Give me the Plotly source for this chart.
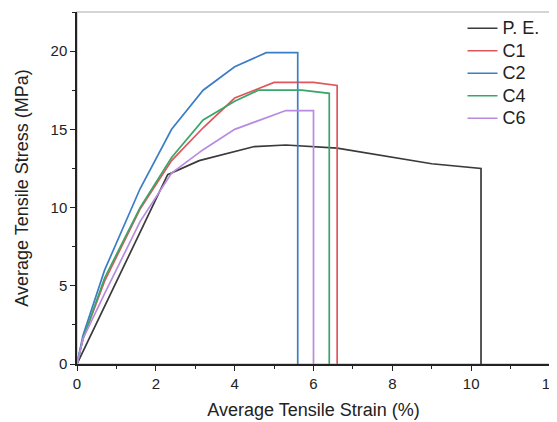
import plotly.graph_objects as go

# Data
pe_strain = [0, 0.8, 1.6, 2.3, 3.1, 4.5, 5.3, 6.6, 9.0, 10.25, 10.25]
pe_stress = [0, 4.2, 8.4, 12.1, 13.0, 13.9, 14.0, 13.8, 12.8, 12.5, 0]

c1_strain = [0, 0.15, 0.7, 1.6, 2.4, 3.2, 4.0, 5.0, 6.0, 6.6, 6.6]
c1_stress = [0, 1.6, 5.3, 9.9, 13.0, 15.1, 17.0, 18.0, 18.0, 17.8, 0]

c2_strain = [0, 0.15, 0.7, 1.6, 2.4, 3.2, 4.0, 4.8, 5.6, 5.6]
c2_stress = [0, 1.8, 6.0, 11.2, 15.0, 17.5, 19.0, 19.9, 19.9, 0]

c4_strain = [0, 0.15, 0.7, 1.6, 2.4, 3.2, 4.0, 4.6, 5.7, 6.4, 6.4]
c4_stress = [0, 1.6, 5.5, 10.0, 13.2, 15.6, 16.8, 17.5, 17.5, 17.3, 0]

c6_strain = [0, 0.15, 0.7, 1.6, 2.4, 3.2, 4.0, 5.3, 6.0, 6.0]
c6_stress = [0, 1.6, 4.5, 9.1, 12.2, 13.7, 15.0, 16.2, 16.2, 0]

series_names = ["P. E.", "C1", "C2", "C4", "C6"]

series = [
    (series_names[0], pe_strain, pe_stress, "#3a3a3a"),
    (series_names[1], c1_strain, c1_stress, "#e0565b"),
    (series_names[2], c2_strain, c2_stress, "#3b7dc6"),
    (series_names[3], c4_strain, c4_stress, "#3aa56a"),
    (series_names[4], c6_strain, c6_stress, "#b88be0"),
]

x_ticks = [0, 2, 4, 6, 8, 10, 12]
y_ticks = [0, 5, 10, 15, 20]

fig = go.Figure()
for name, xs, ys, col in series:
    fig.add_trace(go.Scatter(x=xs, y=ys, mode="lines",
                             name='<span style="font-size:18px">' + name + '</span>',
                             line=dict(color=col, width=1.7)))

font_family = "Liberation Sans, Arial, sans-serif"

# light gray frame (top/right)
fig.add_shape(type="rect", xref="x domain", yref="y domain", x0=0, x1=1, y0=0, y1=1,
              line=dict(color="#c8c8c8", width=1.5), layer="below")

axis_common = dict(
    showgrid=False, zeroline=False, showline=True, linecolor="#222222", linewidth=1.5,
    ticks="outside", ticklen=5, tickwidth=1.3, tickcolor="#222222",
    tickfont=dict(family=font_family, size=15, color="#222222"),
)

# the page is offset by the body margin (8px), so margins compensate
fig.update_layout(
    width=557, height=422,
    margin=dict(l=69, r=15, t=4, b=66),
    paper_bgcolor="white", plot_bgcolor="white",
    font=dict(family=font_family, color="#222222"),
    xaxis=dict(range=[0, 12], tickvals=x_ticks,
               minor=dict(dtick=1, ticks="outside", ticklen=3, tickcolor="#222222"),
               title=dict(text="Average Tensile Strain (%)", font=dict(size=18), standoff=13),
               **axis_common),
    yaxis=dict(range=[0, 22.5], tickvals=y_ticks,
               minor=dict(dtick=2.5, ticks="outside", ticklen=3, tickcolor="#222222"),
               title=dict(text="Average Tensile Stress (MPa)", font=dict(size=18), standoff=17),
               **axis_common),
    legend=dict(x=0.815, y=1.0, xanchor="left", yanchor="top",
                bgcolor="rgba(0,0,0,0)", borderwidth=0,
                font=dict(family=font_family, size=15, color="#222222"),
                tracegroupgap=0),
    showlegend=True,
)

fig.write_html("out.html")
